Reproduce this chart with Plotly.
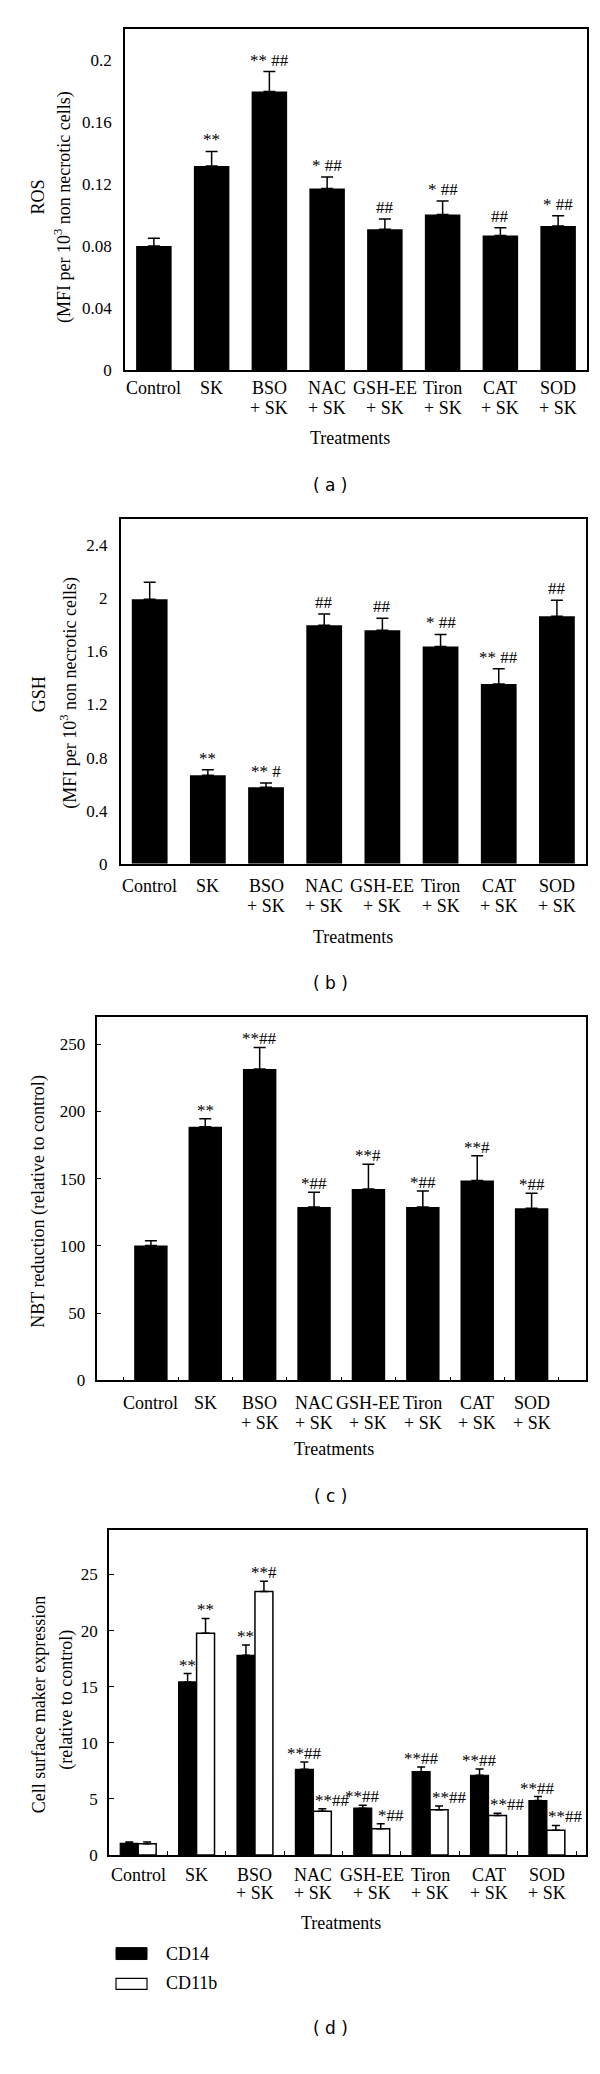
import plotly.graph_objects as go

W, H = 600, 2074

# ---------------- data ----------------
categories = ["Control", "SK", "BSO<br>+ SK", "NAC<br>+ SK", "GSH-EE<br>+ SK",
              "Tiron<br>+ SK", "CAT<br>+ SK", "SOD<br>+ SK"]

ros_values = [0.080, 0.1316, 0.1797, 0.1171, 0.0908, 0.1004, 0.0868, 0.0930]
ros_err = [0.005, 0.0094, 0.0128, 0.0075, 0.0066, 0.0086, 0.0051, 0.0066]
ros_sig = ["", "**", "** ##", "* ##", "##", "* ##", "##", "* ##"]
ros_ticks = [0, 0.04, 0.08, 0.12, 0.16, 0.2]
ros_ticktext = ["0", "0.04", "0.08", "0.12", "0.16", "0.2"]

gsh_values = [1.992, 0.668, 0.576, 1.797, 1.759, 1.637, 1.354, 1.864]
gsh_err = [0.128, 0.040, 0.032, 0.085, 0.090, 0.090, 0.115, 0.121]
gsh_sig = ["", "**", "** #", "##", "##", "* ##", "** ##", "##"]
gsh_ticks = [0, 0.4, 0.8, 1.2, 1.6, 2.0, 2.4]
gsh_ticktext = ["0", "0.4", "0.8", "1.2", "1.6", "2", "2.4"]

nbt_values = [100.3, 188.5, 231.5, 128.9, 142.3, 128.9, 148.5, 127.9]
nbt_err = [3.4, 5.9, 16.0, 10.9, 18.3, 11.9, 18.5, 11.2]
nbt_sig = ["", "**", "**##", "*##", "**#", "*##", "**#", "*##"]
nbt_ticks = [0, 50, 100, 150, 200, 250]
nbt_ticktext = ["0", "50", "100", "150", "200", "250"]

cd14_values = [1.04, 15.43, 17.80, 7.64, 4.18, 7.43, 7.11, 4.86]
cd14_err = [0.12, 0.74, 0.92, 0.65, 0.26, 0.42, 0.56, 0.35]
cd14_sig = ["", "**", "**", "**##", "**##", "**##", "**##", "**##"]
cd11b_values = [1.01, 19.76, 23.49, 3.91, 2.34, 4.03, 3.52, 2.22]
cd11b_err = [0.15, 1.33, 0.92, 0.21, 0.44, 0.35, 0.21, 0.42]
cd11b_sig = ["", "**", "**#", "**##", "*##", "**##", "**##", "**##"]
cd_ticks = [0, 5, 10, 15, 20, 25]
cd_ticktext = ["0", "5", "10", "15", "20", "25"]

# ---------------- style ----------------
SERIF = "Liberation Serif, Times New Roman, serif"
SANS = "DejaVu Sans, Verdana, sans-serif"
BLACK = "#000000"


def px_x(v):
    return v / W


def px_y(v):
    return 1 - v / H


fig = go.Figure()

panels = [
    dict(n="", xd=(117, 579), yd=(21, 364), yr=[0, 0.22], xr=[-0.5, 7.5],
         tv=ros_ticks, tt=ros_ticktext, ticks="", ystand=8, lab=(382, 402)),
    dict(n="2", xd=(112.6, 578), yd=(513, 860), yr=[0, 2.6], xr=[-0.5, 7.5],
         tv=gsh_ticks, tt=gsh_ticktext, ticks="", ystand=8, lab=(882, 902)),
    dict(n="3", xd=(88.5, 578), yd=(1014, 1379), yr=[0, 270], xr=[-1, 8],
         tv=nbt_ticks, tt=nbt_ticktext, ticks="inside", ystand=6, lab=(1402, 1422)),
    dict(n="4", xd=(101, 578), yd=(1529, 1856), yr=[0, 29], xr=[-0.5, 7.67],
         tv=cd_ticks, tt=cd_ticktext, ticks="inside", ystand=6, lab=(1876, 1894)),
]

layout_axes = {}
for p in panels:
    n = p["n"]
    xa = "xaxis" + n
    ya = "yaxis" + n
    layout_axes[xa] = dict(
        domain=[px_x(p["xd"][0]), px_x(p["xd"][1])],
        anchor="y" + n, type="category", range=p["xr"],
        categoryorder="array", categoryarray=categories,
        showline=True, mirror=True, linecolor=BLACK, linewidth=1.6,
        ticks=p["ticks"], ticklen=4, tickwidth=1.3, tickcolor=BLACK,
        tickson="boundaries", showgrid=False, zeroline=False,
        showticklabels=False, fixedrange=True,
    )
    layout_axes[ya] = dict(
        domain=[px_y(p["yd"][1]), px_y(p["yd"][0])],
        anchor="x" + n, range=p["yr"],
        showline=True, mirror=True, linecolor=BLACK, linewidth=1.6,
        ticks=p["ticks"], ticklen=5, tickwidth=1.3, tickcolor=BLACK,
        tickvals=p["tv"], ticktext=p["tt"], showgrid=False, zeroline=False,
        tickfont=dict(family=SERIF, size=17, color=BLACK),
        ticklabelstandoff=p["ystand"], fixedrange=True,
    )


def err(arr, w):
    return dict(type="data", symmetric=False, array=arr,
                arrayminus=[0] * len(arr), color=BLACK, thickness=1.5, width=w)


fig.add_trace(go.Bar(x=categories, y=ros_values, error_y=err(ros_err, 6),
                     marker=dict(color=BLACK, line=dict(width=0)),
                     xaxis="x", yaxis="y", name="ROS", showlegend=False))
fig.add_trace(go.Bar(x=categories, y=gsh_values, error_y=err(gsh_err, 6),
                     marker=dict(color=BLACK, line=dict(width=0)),
                     xaxis="x2", yaxis="y2", name="GSH", showlegend=False))
fig.add_trace(go.Bar(x=categories, y=nbt_values, error_y=err(nbt_err, 6),
                     marker=dict(color=BLACK, line=dict(width=0)),
                     xaxis="x3", yaxis="y3", name="NBT", showlegend=False))
fig.add_trace(go.Bar(x=categories, y=cd14_values, error_y=err(cd14_err, 4),
                     marker=dict(color=BLACK, line=dict(color=BLACK, width=1.2)),
                     xaxis="x4", yaxis="y4", name="CD14", showlegend=False))
fig.add_trace(go.Bar(x=categories, y=cd11b_values, error_y=err(cd11b_err, 4),
                     marker=dict(color="white", line=dict(color=BLACK, width=1.5)),
                     xaxis="x4", yaxis="y4", name="CD11b", showlegend=False))

annotations = []


def sig_labels(xref, yref, vals, errs, sigs, xshift=0, yshift=0, extra=None):
    for i, (c, v, e, s) in enumerate(zip(categories, vals, errs, sigs)):
        if not s:
            continue
        xs = xshift + (extra(i, s) if extra else 0)
        annotations.append(dict(
            x=c, y=v + e, xref=xref, yref=yref, text=s, showarrow=False,
            xanchor="center", yanchor="bottom", xshift=xs, yshift=yshift,
            font=dict(family=SERIF, size=17, color=BLACK)))


sig_labels("x", "y", ros_values, ros_err, ros_sig, yshift=0)
sig_labels("x2", "y2", gsh_values, gsh_err, gsh_sig, yshift=0)
sig_labels("x3", "y3", nbt_values, nbt_err, nbt_sig, yshift=-3)
sig_labels("x4", "y4", cd14_values, cd14_err, cd14_sig, xshift=-9, yshift=-3)
sig_labels("x4", "y4", cd11b_values, cd11b_err, cd11b_sig, xshift=9, yshift=-3,
           extra=lambda i, s: 10 if "#" in s and i > 2 else 0)


def text(x, y, t, size=18, family=SERIF, angle=0, xanchor="center"):
    annotations.append(dict(
        x=px_x(x), y=px_y(y), xref="paper", yref="paper", text=t,
        showarrow=False, xanchor=xanchor, yanchor="middle", textangle=angle,
        font=dict(family=family, size=size, color=BLACK)))


# category labels (two lines each, placed on each panel's category axis)
for p in panels:
    xref = "x" + p["n"]
    for c in categories:
        lines = c.split("<br>")
        for li, ln in enumerate(lines):
            annotations.append(dict(
                x=c, xref=xref, y=px_y(p["lab"][li]), yref="paper", text=ln,
                showarrow=False, xanchor="center", yanchor="middle",
                font=dict(family=SERIF, size=18, color=BLACK)))

# axis titles
text(30.5, 190, "ROS", angle=-90)
text(55, 200, "(MFI per 10<sup>3</sup> non necrotic cells)", angle=-90)
text(30.5, 690, "GSH", angle=-90)
text(61, 688, "(MFI per 10<sup>3</sup> non necrotic cells)", angle=-90)
text(30.5, 1199, "NBT reduction (relative to control)", angle=-90)
text(30.5, 1705, "Cell surface maker expression", angle=-90)
text(59, 1700, "(relative to control)", angle=-90)

text(342, 432, "Treatments")
text(345, 933, "Treatments")
text(326, 1448, "Treatments")
text(333, 1924, "Treatments")

# panel labels
for yy, lab in [(479, "( a )"), (980, "( b )"), (1495, "( c )"), (2030, "( d )")]:
    text(322, yy, lab, size=17, family=SANS)

# legend for (d)
shapes = [
    dict(type="rect", xref="paper", yref="paper", x0=px_x(108), x1=px_x(139),
         y0=px_y(1961), y1=px_y(1949), fillcolor=BLACK, line=dict(color=BLACK, width=1)),
    dict(type="rect", xref="paper", yref="paper", x0=px_x(108), x1=px_x(139),
         y0=px_y(1991), y1=px_y(1980), fillcolor="white", line=dict(color=BLACK, width=1.2)),
]
text(156, 1955, "CD14", xanchor="left")
text(156, 1985, "CD11b", xanchor="left")

fig.update_layout(
    width=W, height=H, margin=dict(l=0, r=0, t=0, b=0),
    paper_bgcolor="white", plot_bgcolor="white",
    barmode="group", bargap=0.385, bargroupgap=0,
    showlegend=False, annotations=annotations, shapes=shapes,
    font=dict(family=SERIF, color=BLACK),
    **layout_axes,
)

fig.write_html("out.html")
